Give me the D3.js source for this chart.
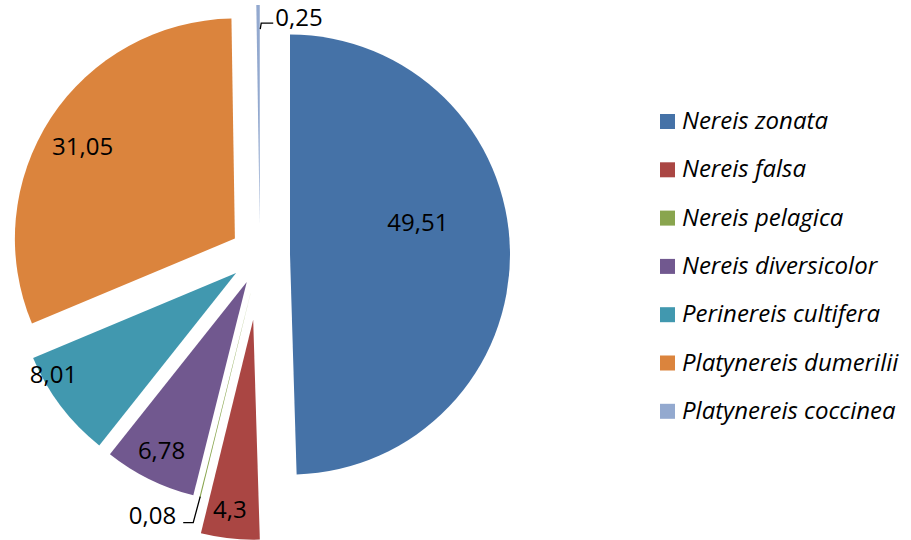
<!DOCTYPE html>
<html>
<head>
<meta charset="utf-8">
<script src="https://cdn.jsdelivr.net/npm/d3@7/dist/d3.min.js"></script>
<style>
  html, body { margin: 0; padding: 0; background: #fff; }
  svg { display: block; }
  text { font-family: "Open Sans", "DejaVu Sans", sans-serif; }
</style>
</head>
<body>
<svg id="chart" width="911" height="540"></svg>
<script>
// ---- data ----
const categories = ["Nereis zonata", "Nereis falsa", "Nereis pelagica", "Nereis diversicolor",
                    "Perinereis cultifera", "Platynereis dumerilii", "Platynereis coccinea"];
const values = [49.51, 4.3, 0.08, 6.78, 8.01, 31.05, 0.25];
const valueLabels = ["49,51", "4,3", "0,08", "6,78", "8,01", "31,05", "0,25"];

// ---- style / layout ----
const colors = ["#4572A7", "#AA4643", "#89A54E", "#71588F", "#4198AF", "#DB843D", "#93A9CF"];
const width = 911, height = 540;
const cx = 260, cy = 255, R = 220;
const explode = [30, 65, 30, 30, 30, 30, 30];
// label placement: radial fraction of R from exploded slice center, plus angle shift (deg)
const labelPlace = [
  {f: 0.60, da: -13.4}, {f: 0.87, da: 1}, {f: null}, {f: 0.86, da: 0.5},
  {f: 0.95, da: 8}, {f: 0.81, da: -1.9}, {f: null}
];

const svg = d3.select("#chart");
const pie = d3.pie().sort(null).value(d => d).startAngle(0).endAngle(2 * Math.PI);
const arcs = pie(values);
const arcGen = d3.arc().innerRadius(0).outerRadius(R);

const dir = a => [Math.sin(a), -Math.cos(a)];

const g = svg.append("g");
arcs.forEach((a, i) => {
  const mid = (a.startAngle + a.endAngle) / 2;
  const [dx, dy] = dir(mid);
  const ox = cx + dx * explode[i], oy = cy + dy * explode[i];
  a.ox = ox; a.oy = oy; a.mid = mid;
  g.append("path")
    .attr("d", arcGen(a))
    .attr("transform", `translate(${ox},${oy})`)
    .attr("fill", colors[i]);
});

// value labels
const labelFont = 24;
arcs.forEach((a, i) => {
  const p = labelPlace[i];
  if (p.f === null) return;
  const ang = a.mid + p.da * Math.PI / 180;
  const [dx, dy] = dir(ang);
  svg.append("text")
    .attr("x", a.ox + dx * R * p.f)
    .attr("y", a.oy + dy * R * p.f)
    .attr("dy", "0.36em")
    .attr("text-anchor", "middle")
    .attr("font-size", labelFont)
    .attr("fill", "#000")
    .text(valueLabels[i]);
});

// small-slice labels with leader lines
(function () {
  // Nereis pelagica (index 2)
  const a = arcs[2];
  const [dx, dy] = dir(a.mid);
  const sx = a.ox + dx * R * 0.995, sy = a.oy + dy * R * 0.995;
  const ex = sx - 7, ey = sy + 26;
  svg.append("path")
    .attr("d", `M${sx},${sy}L${ex},${ey}L${ex - 10},${ey}`)
    .attr("fill", "none").attr("stroke", "#000").attr("stroke-width", 1.3);
  svg.append("text")
    .attr("x", ex - 17).attr("y", ey + 1)
    .attr("text-anchor", "end")
    .attr("font-size", labelFont)
    .text(valueLabels[2]);

  // Platynereis coccinea (index 6)
  const b = arcs[6];
  const [bx, by] = dir(b.mid);
  const tx = b.ox + bx * R * 0.89 + 2, ty = b.oy + by * R * 0.89;
  svg.append("path")
    .attr("d", `M${tx},${ty}L${tx + 1},${ty - 6}L${tx + 13},${ty - 6}`)
    .attr("fill", "none").attr("stroke", "#000").attr("stroke-width", 1.3);
  svg.append("text")
    .attr("x", tx + 15).attr("y", ty - 3)
    .attr("text-anchor", "start")
    .attr("font-size", labelFont)
    .text(valueLabels[6]);
})();

// legend
const legend = svg.append("g").attr("transform", "translate(660,114)");
categories.forEach((c, i) => {
  const row = legend.append("g").attr("transform", `translate(0,${i * 48.3})`);
  row.append("rect").attr("width", 15).attr("height", 15).attr("fill", colors[i]);
  row.append("text")
    .attr("x", 22).attr("y", 15)
    .attr("font-size", 24)
    .attr("font-style", "italic")
    .attr("fill", "#000")
    .text(c);
});
</script>
</body>
</html>
